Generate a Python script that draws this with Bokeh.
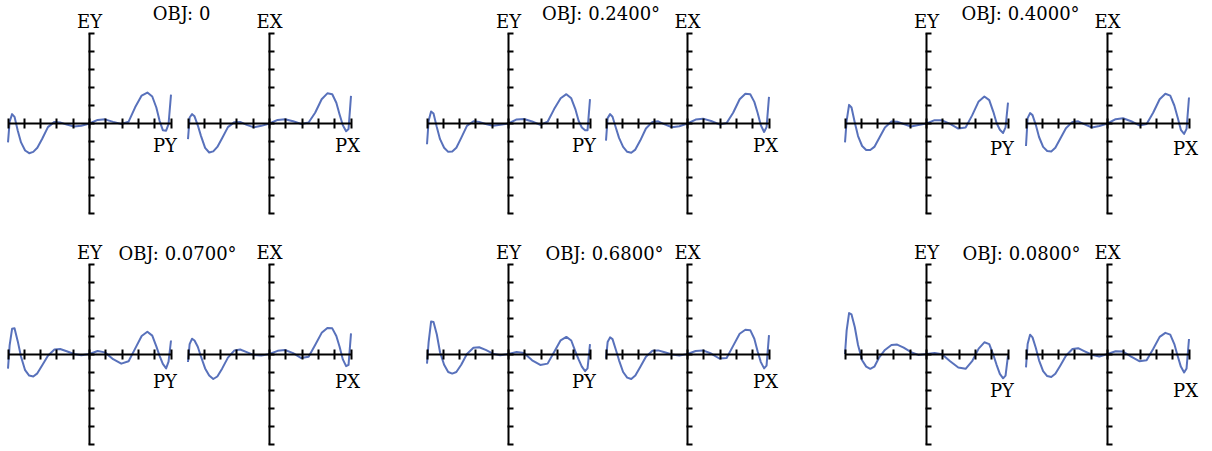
from bokeh.plotting import figure
from bokeh.models import Range1d, LinearAxis, FixedTicker, CustomJSTickFormatter
from bokeh.core.properties import value
from bokeh.embed import file_html
from bokeh.resources import INLINE

# ---------------- data ----------------
PUPIL = [-1.0, -0.98, -0.95, -0.92, -0.88, -0.84, -0.79, -0.74, -0.69, -0.64, -0.58,
         -0.51, -0.43, -0.36, -0.28, -0.19, -0.10, 0.0, 0.10, 0.19, 0.29, 0.39, 0.48,
         0.56, 0.64, 0.71, 0.77, 0.82, 0.86, 0.90, 0.94, 0.97, 1.0]

OBJ_LABELS = ["OBJ: 0", "OBJ: 0.2400°", "OBJ: 0.4000°",
              "OBJ: 0.0700°", "OBJ: 0.6800°", "OBJ: 0.0800°"]

EY_OBJ_0000 = [-0.21, 0.02, 0.104, 0.074, -0.08, -0.21, -0.30, -0.33, -0.315, -0.27, -0.17,
               -0.04, 0.018, 0.012, -0.012, -0.033, -0.024, 0.0, 0.04, 0.046, 0.018, -0.006, 0.02,
               0.18, 0.31, 0.344, 0.30, 0.178, 0.03, -0.074, -0.08, -0.007, 0.32]
EX_OBJ_0000 = [-0.174, 0.067, 0.104, 0.08, -0.02, -0.14, -0.27, -0.322, -0.31, -0.26, -0.16,
               -0.04, 0.015, 0.018, -0.015, -0.043, -0.026, 0.0, 0.04, 0.048, 0.025, -0.005, 0.011,
               0.12, 0.27, 0.335, 0.325, 0.23, 0.10, -0.02, -0.085, -0.06, 0.307]

EY_OBJ_2400 = [-0.23, 0.03, 0.133, 0.11, -0.04, -0.174, -0.27, -0.315, -0.31, -0.27, -0.16,
               -0.026, 0.025, 0.018, -0.006, -0.026, -0.015, 0.0, 0.045, 0.05, 0.022, -0.015, 0.02,
               0.16, 0.28, 0.326, 0.28, 0.16, 0.03, -0.044, -0.074, -0.074, 0.27]
EX_OBJ_2400 = [-0.19, 0.06, 0.104, 0.075, -0.044, -0.16, -0.26, -0.315, -0.325, -0.29, -0.19,
               -0.055, 0.018, 0.024, -0.01, -0.042, -0.03, 0.0, 0.044, 0.054, 0.028, -0.01, 0.005,
               0.12, 0.27, 0.33, 0.325, 0.24, 0.12, -0.02, -0.094, -0.04, 0.296]

EY_OBJ_4000 = [-0.21, 0.03, 0.207, 0.178, 0.011, -0.14, -0.25, -0.295, -0.295, -0.26, -0.16,
               -0.044, 0.022, 0.02, -0.005, -0.033, -0.016, 0.0, 0.037, 0.035, -0.005, -0.056, -0.045,
               0.09, 0.245, 0.30, 0.26, 0.13, 0.005, -0.07, -0.105, -0.044, 0.233]
EX_OBJ_4000 = [-0.25, 0.06, 0.115, 0.093, -0.015, -0.15, -0.26, -0.305, -0.31, -0.27, -0.17,
               -0.052, 0.018, 0.024, -0.01, -0.044, -0.028, 0.0, 0.048, 0.058, 0.025, -0.022, -0.005,
               0.12, 0.27, 0.33, 0.31, 0.20, 0.07, -0.07, -0.115, -0.06, 0.289]

EY_OBJ_0700 = [-0.163, 0.096, 0.28, 0.285, 0.14, -0.03, -0.18, -0.24, -0.25, -0.215, -0.126,
               -0.02, 0.05, 0.055, 0.03, 0.0, -0.015, 0.0, 0.033, 0.018, -0.058, -0.107, -0.08,
               0.06, 0.20, 0.248, 0.204, 0.085, -0.02, -0.11, -0.16, -0.085, 0.15]
EX_OBJ_0700 = [-0.089, 0.11, 0.17, 0.15, 0.08, -0.03, -0.16, -0.24, -0.278, -0.25, -0.16,
               -0.04, 0.04, 0.05, 0.02, -0.012, -0.018, 0.0, 0.035, 0.044, 0.01, -0.045, -0.03,
               0.10, 0.235, 0.29, 0.285, 0.20, 0.08, -0.06, -0.135, -0.12, 0.23]

EY_OBJ_6800 = [-0.107, 0.133, 0.36, 0.355, 0.22, 0.02, -0.12, -0.20, -0.218, -0.20, -0.12,
               0.0, 0.07, 0.075, 0.045, 0.003, -0.014, 0.0, 0.022, 0.011, -0.07, -0.122, -0.107,
               0.022, 0.152, 0.19, 0.15, 0.03, -0.06, -0.14, -0.19, -0.16, 0.11]
EX_OBJ_6800 = [-0.052, 0.133, 0.185, 0.165, 0.05, -0.07, -0.20, -0.262, -0.278, -0.24, -0.144,
               -0.03, 0.035, 0.04, 0.02, -0.005, -0.018, 0.0, 0.033, 0.04, 0.005, -0.05, -0.045,
               0.09, 0.225, 0.27, 0.265, 0.17, 0.03, -0.09, -0.16, -0.13, 0.21]

EY_OBJ_0800 = [0.0, 0.26, 0.455, 0.44, 0.30, 0.10, -0.07, -0.14, -0.165, -0.141, -0.037,
               0.045, 0.10, 0.105, 0.07, 0.02, -0.01, 0.0, 0.011, -0.003, -0.08, -0.15, -0.165,
               -0.08, 0.06, 0.13, 0.11, -0.01, -0.12, -0.22, -0.27, -0.24, -0.019]
EX_OBJ_0800 = [-0.148, 0.111, 0.215, 0.185, 0.07, -0.07, -0.19, -0.245, -0.255, -0.22, -0.13,
               -0.02, 0.055, 0.065, 0.03, -0.008, -0.028, 0.0, 0.03, 0.028, -0.03, -0.08, -0.07,
               0.055, 0.19, 0.235, 0.215, 0.11, -0.02, -0.14, -0.205, -0.16, 0.167]

EY_SERIES = [EY_OBJ_0000, EY_OBJ_2400, EY_OBJ_4000, EY_OBJ_0700, EY_OBJ_6800, EY_OBJ_0800]
EX_SERIES = [EX_OBJ_0000, EX_OBJ_2400, EX_OBJ_4000, EX_OBJ_0700, EX_OBJ_6800, EX_OBJ_0800]

TICKS = [-1.0, -0.8, -0.6, -0.4, -0.2, 0.0, 0.2, 0.4, 0.6, 0.8, 1.0]

# ---------------- layout (pixels) ----------------
W, H = 1212, 451
EY_CENTER_X = [89, 508, 926]
EX_CENTER_X = [269, 687, 1107]
ROW_ORIGIN_Y = [123, 353.5]
PX_PER_X = 81.5
PX_PER_Y = 90.0
OBJ_DX = [92, 92.5, 94, 88, 96, 95]
OBJ_DY = [-20, -20, -20, -11, -11, -11]
AXIS_NAME_DY = -12
P_DROP = [22, 22, 25, 27.5, 27.5, 36.5]

FONT = value("DejaVu Serif")
FSIZE = "18px"
CURVE = "#4662b4"

p = figure(width=W, height=H, x_axis_type=None, y_axis_type=None,
           toolbar_location=None, output_backend="svg", min_border=0,
           x_range=Range1d(0, W), y_range=Range1d(H, 0),
           outline_line_color=None, background_fill_color="white",
           border_fill_color="white")
p.grid.visible = False

for i, xc in enumerate(EY_CENTER_X):
    p.extra_x_ranges[f"ey{i}"] = Range1d(-xc / PX_PER_X, (W - xc) / PX_PER_X)
for i, xc in enumerate(EX_CENTER_X):
    p.extra_x_ranges[f"ex{i}"] = Range1d(-xc / PX_PER_X, (W - xc) / PX_PER_X)
for r, yr in enumerate(ROW_ORIGIN_Y):
    p.extra_y_ranges[f"row{r}"] = Range1d(-(H - yr) / PX_PER_Y, yr / PX_PER_Y)

blank = CustomJSTickFormatter(code="return ''")


def add_axes(xn, yn):
    hx = LinearAxis(x_range_name=xn, y_range_name=yn, fixed_location=0, bounds=(-1, 1),
                    ticker=FixedTicker(ticks=TICKS), formatter=blank,
                    axis_line_width=2, axis_line_color="black",
                    major_tick_line_width=2, major_tick_line_color="black",
                    major_tick_in=5, major_tick_out=5,
                    minor_tick_line_color=None, major_label_text_font_size="0px")
    p.add_layout(hx, "below")
    vy = LinearAxis(x_range_name=xn, y_range_name=yn, fixed_location=0, bounds=(-1, 1),
                    ticker=FixedTicker(ticks=TICKS), formatter=blank,
                    axis_line_width=2, axis_line_color="black",
                    major_tick_line_width=2, major_tick_line_color="black",
                    major_tick_in=5, major_tick_out=1,
                    minor_tick_line_color=None, major_label_text_font_size="0px")
    p.add_layout(vy, "left")


def label(xn, yn, x, y, txt, dx=0, dy=0, align="center"):
    p.text(x=[x], y=[y], text=[txt], x_range_name=xn, y_range_name=yn,
           x_offset=dx, y_offset=dy, text_align=align, text_baseline="alphabetic",
           text_font=FONT, text_font_size=FSIZE, text_color="black")


for k in range(6):
    row, col = divmod(k, 3)
    yn = f"row{row}"
    for kind, series, pname, pdx in (("ey", EY_SERIES, "PY", -6), ("ex", EX_SERIES, "PX", -3.5)):
        xn = f"{kind}{col}"
        add_axes(xn, yn)
        p.line(PUPIL, series[k], x_range_name=xn, y_range_name=yn,
               line_color=CURVE, line_width=2, line_join="round", line_alpha=0.9)
        label(xn, yn, 0, 1, kind.upper(), dy=AXIS_NAME_DY)
        label(xn, yn, 1, 0, pname, dx=pdx, dy=P_DROP[k])
    label(f"ey{col}", yn, 0, 1, OBJ_LABELS[k], dx=OBJ_DX[k], dy=OBJ_DY[k])

open("out.html", "w").write(file_html(p, INLINE))
